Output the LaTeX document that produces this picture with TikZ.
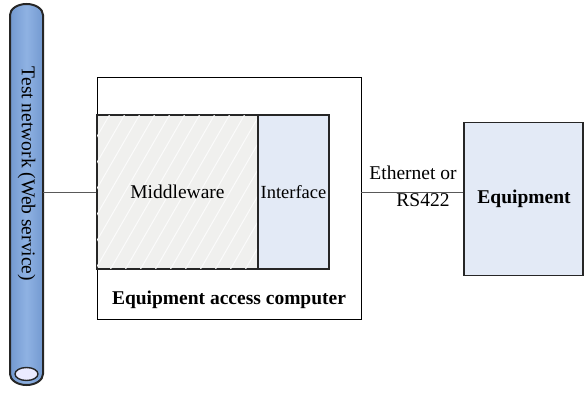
\documentclass[tikz,border=0pt]{standalone}
\usepackage{fontspec}
\setmainfont{Liberation Serif}
\usetikzlibrary{shapes.geometric}
\begin{document}
\begin{tikzpicture}[x=1pt,y=-1pt,
  txt/.style={font=\fontsize{19.5}{22}\selectfont, inner sep=0pt},
  boxa/.style={draw=black!85, line width=1.2pt, inner sep=0pt},
  conn/.style={draw=black!65, line width=0.9pt}]
\definecolor{lightblue}{HTML}{E3EAF6}
\definecolor{hatchgray}{HTML}{F0F0EE}
\definecolor{pipeblue}{HTML}{8FB2E3}
\definecolor{pipedark}{HTML}{7399D0}
\useasboundingbox (0,0) rectangle (584,393);
% outer box
\node[draw=black, line width=0.7pt, minimum width=264pt, minimum height=242pt, inner sep=0pt] (outer) at (229,198) {};
% middleware
\node[boxa, fill=hatchgray, minimum width=161pt, minimum height=154pt] (mw) at (177.5,192) {};
\begin{scope}
  \clip (97,115) rectangle (258,269);
  \foreach \i [evaluate=\i as \j using \i+90] in {-100,-85,...,260} {
    \draw[white!75!hatchgray, line width=1pt] (\i,270) -- (\j,114);
  }
\end{scope}
\draw[black!85, line width=1.2pt] (mw.south west) rectangle (mw.north east);
\node[txt] (mwt) at (mw.center) {Middleware};
% interface
\node[boxa, fill=lightblue, minimum width=71pt, minimum height=154pt] (intf) at (293.5,192) {};
\node[txt, font=\fontsize{18.5}{22}\selectfont] (intft) at (intf.center) {Interface};
\node[txt, font=\fontsize{19.5}{22}\selectfont\bfseries] (eact) at (229,300) {Equipment access computer};
% equipment
\node[boxa, fill=lightblue, minimum width=119pt, minimum height=153pt] (eq) at (523.5,199) {};
\node[txt, font=\fontsize{19.5}{22}\selectfont\bfseries] (eqt) at (524,199) {Equipment};
% pipe
\shade[left color=pipedark, right color=pipedark, middle color=pipeblue, draw=black!85, line width=2pt]
  (10,374) -- (10,15) arc[start angle=180, end angle=0, x radius=16.5, y radius=-11] -- (43,374)
  arc[start angle=0, end angle=-180, x radius=16.5, y radius=-11] -- cycle;
\node[draw=black!85, line width=1.4pt, fill=white!92!blue, ellipse, minimum width=23pt, minimum height=13pt, inner sep=0pt] (hole) at (26.5,374) {};
\node[txt, rotate=-90] (net) at (26.5,174) {Test network (Web service)};
\coordinate (pipee) at (43,192);
% connectors
\draw[conn] (pipee) -- (mw.west);
\draw[conn] (outer.east |- mw.east) -- (eq.west |- mw.east);
\node[txt] (eth) at (413,173) {Ethernet or};
\node[txt] (rs) at (423,200) {RS422};
\end{tikzpicture}
\end{document}
